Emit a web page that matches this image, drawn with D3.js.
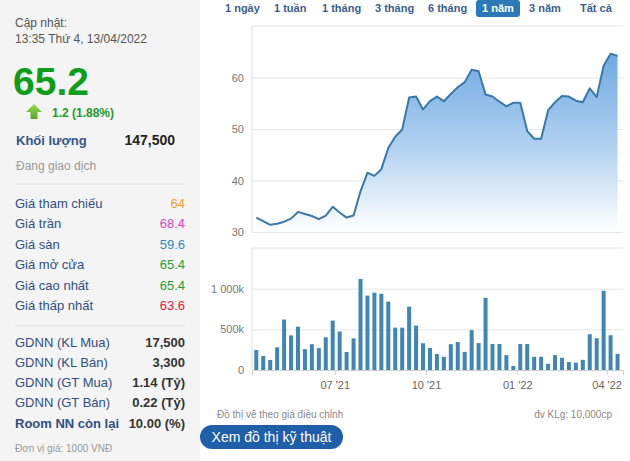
<!DOCTYPE html>
<html><head><meta charset="utf-8">
<script src="https://cdn.jsdelivr.net/npm/d3@7"></script>
<style>
html,body{margin:0;padding:0;background:#fff;}
svg{display:block;font-family:Arial,"Liberation Sans",sans-serif;}
</style></head>
<body>
<svg id="c" width="630" height="461"></svg>
<script>
// ---- data ----
const startDate = new Date(2021, 3, 13);
const prices = [32.8,32.1,31.4,31.6,32.0,32.6,33.9,33.5,33.1,32.5,33.2,34.9,33.8,32.8,33.2,37.9,41.5,40.9,42.2,46.3,48.5,49.9,56.1,56.3,53.8,55.4,56.3,55.4,56.8,58.1,59.1,61.5,61.2,56.7,56.3,55.3,54.4,55.1,55.1,49.6,48.1,48.1,53.6,55.2,56.4,56.3,55.5,55.2,57.9,56.2,62.3,64.6,64.2];
const volumes = [245,173,123,279,621,425,533,256,317,269,402,608,473,221,388,1119,915,950,937,841,521,521,779,546,329,271,196,162,317,344,223,490,331,887,319,319,183,50,319,319,162,162,75,183,150,98,90,125,440,390,975,427,198].map(v=>v*1000);
const priceTicks = [30,40,50,60];
const volTicks = [0,500000,1000000];
const volTickLabels = ["0","500k","1 000k"];
const monthTicks = [new Date(2021,6,1),new Date(2021,9,1),new Date(2022,0,1),new Date(2022,3,1)];
const tabs = ["1 ngày","1 tuần","1 tháng","3 tháng","6 tháng","1 năm","3 năm","Tất cả"];
const activeTab = "1 năm";
const infoRows = [["Giá tham chiếu","64","#f0a030"],["Giá trần","68.4","#e040c8"],["Giá sàn","59.6","#2a8cc4"],["Giá mở cửa","65.4","#1fa02c"],["Giá cao nhất","65.4","#1fa02c"],["Giá thấp nhất","63.6","#e0203a"]];
const foreignRows = [["GDNN (KL Mua)","17,500"],["GDNN (KL Bán)","3,300"],["GDNN (GT Mua)","1.14 (Tỷ)"],["GDNN (GT Bán)","0.22 (Tỷ)"],["Room NN còn lại","10.00 (%)"]];

const data = prices.map((p,i)=>({date:d3.timeDay.offset(startDate,7*i),price:p,vol:volumes[i]}));

const svg = d3.select("#c");
const defs = svg.append("defs");

// ---- left panel ----
svg.append("rect").attr("x",0).attr("y",0).attr("width",200).attr("height",461).attr("fill","#f4f4f4");
const L = svg.append("g");
L.append("text").attr("x",15).attr("y",27).attr("font-size",12).attr("fill","#555").text("Cập nhật:");
L.append("text").attr("x",15).attr("y",43).attr("font-size",12).attr("fill","#555").text("13:35 Thứ 4, 13/04/2022");
L.append("text").attr("x",13).attr("y",95).attr("font-size",39).attr("font-weight","bold").attr("fill","#0c9e1a").text("65.2");
// arrow icon
const ag = defs.append("linearGradient").attr("id","ag").attr("x1",0).attr("x2",0).attr("y1",0).attr("y2",1);
ag.append("stop").attr("offset",0).attr("stop-color","#9ad84a");
ag.append("stop").attr("offset",1).attr("stop-color","#5aa828");
L.append("path").attr("d","M34,104 L42,112 L37.5,112 L37.5,119 L30.5,119 L30.5,112 L26,112 Z").attr("fill","url(#ag)");
L.append("text").attr("x",52).attr("y",117).attr("font-size",12).attr("font-weight","bold").attr("fill","#1e9a2a").text("1.2 (1.88%)");
L.append("text").attr("x",16).attr("y",145).attr("font-size",13).attr("fill","#34558c").attr("font-weight","bold").text("Khối lượng");
L.append("text").attr("x",175).attr("y",145).attr("text-anchor","end").attr("font-size",14).attr("font-weight","bold").attr("fill","#222").text("147,500");
L.append("text").attr("x",16).attr("y",170).attr("font-size",12).attr("fill","#999").text("Đang giao dịch");
L.append("line").attr("x1",14).attr("x2",186).attr("y1",184).attr("y2",184).attr("stroke","#e3e3e3");
infoRows.forEach((r,i)=>{
  const y = 208 + i*20.4;
  L.append("text").attr("x",15).attr("y",y).attr("font-size",13).attr("fill","#2f4f86").text(r[0]);
  L.append("text").attr("x",185).attr("y",y).attr("text-anchor","end").attr("font-size",13).attr("fill",r[2]).text(r[1]);
});
L.append("line").attr("x1",14).attr("x2",186).attr("y1",326).attr("y2",326).attr("stroke","#e3e3e3");
foreignRows.forEach((r,i)=>{
  const y = 346.5 + i*20.3;
  L.append("text").attr("x",15).attr("y",y).attr("font-size",13).attr("fill","#2f4f86").attr("font-weight",i===4?"bold":"normal").text(r[0]);
  L.append("text").attr("x",185).attr("y",y).attr("text-anchor","end").attr("font-size",13).attr("font-weight","bold").attr("fill","#333").text(r[1]);
});
L.append("text").attr("x",15).attr("y",452).attr("font-size",10).attr("fill","#999").text("Đơn vị giá: 1000 VNĐ");

// ---- tabs ----
const tabX = [225,274,322,375,428,477,529,580];
tabs.forEach((t,i)=>{
  const active = t===activeTab;
  if(active){
    svg.append("rect").attr("x",476).attr("y",0).attr("width",44).attr("height",17).attr("rx",3).attr("fill","#2b79b9");
  }
  svg.append("text").attr("x",active?498:tabX[i]).attr("y",12).attr("text-anchor",active?"middle":"start")
    .attr("font-size",11).attr("font-weight","bold").attr("fill",active?"#fff":"#3a5e92").text(t);
});

// ---- scales ----
const x = d3.scaleTime().domain([new Date(2021,3,8,16), new Date(2022,3,17,12)]).range([252,623]);
const yP = d3.scaleLinear().domain([30,70]).range([232,26]);
const yV = d3.scaleLinear().domain([0,1500000]).range([370,248]);

// price frame & grid
svg.append("line").attr("x1",252).attr("x2",623).attr("y1",26).attr("y2",26).attr("stroke","#e6e6e6");
svg.append("line").attr("x1",252).attr("x2",252).attr("y1",26).attr("y2",232).attr("stroke","#e0e0e0");
const gP = svg.append("g").attr("transform","translate(252,0)")
  .call(d3.axisLeft(yP).tickValues(priceTicks).tickSize(-371).tickFormat(d3.format("d")).tickPadding(8));
gP.select(".domain").remove();
gP.selectAll(".tick line").attr("stroke","#e6e6e6");
gP.selectAll(".tick text").attr("font-size",11).attr("fill","#777").attr("font-family","Arial,'Liberation Sans',sans-serif");

// gradient area
const pg = defs.append("linearGradient").attr("id","pg").attr("gradientUnits","userSpaceOnUse")
  .attr("x1",0).attr("x2",0).attr("y1",yP(66)).attr("y2",yP(30));
pg.append("stop").attr("offset",0).attr("stop-color","#6aa6e2");
pg.append("stop").attr("offset",0.55).attr("stop-color","#b3d2f0");
pg.append("stop").attr("offset",1).attr("stop-color","#ffffff");
svg.append("path").datum(data)
  .attr("d",d3.area().x(d=>x(d.date)).y0(yP(30)).y1(d=>yP(d.price)))
  .attr("fill","url(#pg)");
svg.append("path").datum(data)
  .attr("d",d3.line().x(d=>x(d.date)).y(d=>yP(d.price)))
  .attr("fill","none").attr("stroke","#3a78ab").attr("stroke-width",2).attr("stroke-linejoin","round");

// volume frame & grid
svg.append("line").attr("x1",252).attr("x2",623).attr("y1",248).attr("y2",248).attr("stroke","#e6e6e6");
svg.append("line").attr("x1",252).attr("x2",252).attr("y1",248).attr("y2",370).attr("stroke","#e0e0e0");
const gV = svg.append("g").attr("transform","translate(252,0)")
  .call(d3.axisLeft(yV).tickValues(volTicks).tickSize(-371).tickFormat((d,i)=>volTickLabels[i]).tickPadding(8));
gV.select(".domain").remove();
gV.selectAll(".tick line").attr("stroke","#e6e6e6");
gV.selectAll(".tick text").attr("font-size",11).attr("fill","#777").attr("font-family","Arial,'Liberation Sans',sans-serif");

svg.append("g").selectAll("rect").data(data).join("rect")
  .attr("x",d=>x(d.date)-2).attr("width",4)
  .attr("y",d=>yV(d.vol)).attr("height",d=>yV(0)-yV(d.vol))
  .attr("fill","#3f86b4");

const gX = svg.append("g").attr("transform","translate(0,370)")
  .call(d3.axisBottom(x).tickValues(monthTicks).tickFormat(d3.timeFormat("%m '%y")).tickSize(5).tickPadding(6));
gX.select(".domain").attr("stroke","#cfcfcf");
gX.selectAll(".tick line").attr("stroke","#cfcfcf");
gX.selectAll(".tick text").attr("font-size",11).attr("fill","#666").attr("font-family","Arial,'Liberation Sans',sans-serif");

// footer
svg.append("text").attr("x",217).attr("y",418).attr("font-size",10).attr("fill","#888").text("Đồ thị vẽ theo giá điều chỉnh");
svg.append("text").attr("x",612).attr("y",418).attr("text-anchor","end").attr("font-size",10).attr("fill","#888").text("đv KLg: 10,000cp");
svg.append("rect").attr("x",200).attr("y",425).attr("width",143).attr("height",24).attr("rx",12).attr("fill","#1f5ea8");
svg.append("text").attr("x",271.5).attr("y",442).attr("text-anchor","middle").attr("font-size",14).attr("fill","#fff").text("Xem đồ thị kỹ thuật");
</script>
</body></html>
